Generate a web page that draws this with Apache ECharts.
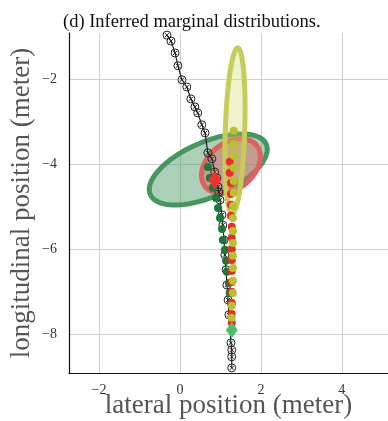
<!DOCTYPE html>
<html>
<head>
<meta charset="utf-8">
<script src="https://cdn.jsdelivr.net/npm/echarts@6/dist/echarts.min.js"></script>
<style>
html, body { margin: 0; padding: 0; background: #fff; }
#chart { width: 388px; height: 421px; }
</style>
</head>
<body>
<div id="chart"></div>
<script>
// ============================================
// (d) Inferred marginal distributions
// ============================================

// 黑色軌跡
const trajX = [-0.32, -0.22, -0.12, -0.05, 0.05, 0.17, 0.27, 0.37, 0.44, 0.54, 0.62, 0.69, 0.79, 0.86, 0.91, 0.94, 0.96, 0.99, 1.04, 1.06, 1.09, 1.11, 1.14, 1.16, 1.19, 1.21, 1.26, 1.28, 1.28, 1.28];
const trajY = [-0.97, -1.11, -1.39, -1.69, -2.02, -2.19, -2.47, -2.66, -2.80, -3.08, -3.27, -3.74, -3.88, -4.19, -4.33, -4.54, -4.66, -4.85, -5.20, -5.44, -5.79, -6.14, -6.49, -6.85, -7.20, -7.55, -8.21, -8.38, -8.54, -8.80];

// 深綠點
const greenX = [0.69, 0.74, 0.81, 0.89, 0.94, 0.99, 1.04, 1.06, 1.11, 1.14, 1.16, 1.21, 1.23, 1.26];
const greenY = [-4.07, -4.33, -4.56, -4.80, -5.04, -5.27, -5.53, -5.79, -6.02, -6.28, -6.54, -6.80, -7.04, -7.27];

// 紅點
const redX = [1.23, 1.23, 1.26, 1.26, 1.26, 1.26, 1.28, 1.28, 1.28, 1.28, 1.28, 1.28, 1.28, 1.28, 1.28, 1.28];
const redY = [-3.95, -4.21, -4.45, -4.71, -4.96, -5.22, -5.48, -5.74, -6.00, -6.26, -6.52, -6.78, -7.01, -7.27, -7.53, -7.74];

// 黃綠點
const yellowX = [1.33, 1.33, 1.33, 1.33, 1.33, 1.33, 1.31, 1.31, 1.31, 1.31, 1.31, 1.31, 1.31, 1.31, 1.28, 1.28];
const yellowY = [-3.22, -3.53, -3.81, -4.09, -4.40, -4.68, -4.99, -5.27, -5.58, -5.86, -6.16, -6.45, -6.75, -7.04, -7.34, -7.62];

// 菱形
const redDiamond = [0.86, -4.38];
const greenDiamond = [1.28, -7.91];

// 橢圓 (綠, 紅, 黃)
const ellipseCx = [0.70, 1.26, 1.36];
const ellipseCy = [-4.13, -4.05, -3.22];
const ellipseA = [1.55, 0.80, 1.95];
const ellipseB = [0.65, 0.55, 0.24];
const ellipseAngle = [22, 35, 88];

// 刻度
const xTicks = [-2, 0, 2, 4];
const yTicks = [-8, -6, -4, -2];

const zip = (xs, ys) => xs.map((x, i) => [x, ys[i]]);

const ellipseStroke = ['#46965f', '#e05f5f', '#c6cc58'];
const ellipseFill = ['rgba(70,150,95,0.45)', 'rgba(225,95,95,0.45)', 'rgba(205,210,90,0.3)'];

function renderEllipse(params, api) {
    const i = params.dataIndex;
    const cx = api.value(0), cy = api.value(1);
    const a = api.value(2), b = api.value(3);
    const ang = api.value(4) * Math.PI / 180;
    const pts = [];
    for (let k = 0; k < 90; k++) {
        const t = k / 90 * Math.PI * 2;
        const x = cx + a * Math.cos(t) * Math.cos(ang) - b * Math.sin(t) * Math.sin(ang);
        const y = cy + a * Math.cos(t) * Math.sin(ang) + b * Math.sin(t) * Math.cos(ang);
        pts.push(api.coord([x, y]));
    }
    return {
        type: 'polygon',
        shape: { points: pts },
        style: { fill: ellipseFill[i], stroke: ellipseStroke[i], lineWidth: 5 }
    };
}

const serif = 'Liberation Serif';
const minus = v => String(v).replace('-', '\u2212');

const chart = echarts.init(document.getElementById('chart'));
chart.setOption({
    animation: false,
    title: {
        text: '(d) Inferred marginal distributions.',
        left: 58, top: 8,
        textStyle: { fontFamily: serif, fontSize: 18.5, fontWeight: 'normal', color: '#111' }
    },
    grid: { left: 69, top: 33, right: 0, bottom: 48, outerBoundsMode: 'none', containLabel: false },
    xAxis: {
        type: 'value',
        min: -2.74, max: 5.14,
        name: 'lateral position (meter)',
        nameLocation: 'middle',
        nameGap: 19,
        nameMoveOverlap: false,
        nameTextStyle: { fontFamily: serif, fontSize: 27, color: '#555', verticalAlign: 'top' },
        axisLine: { onZero: false, lineStyle: { color: '#111', width: 1.2 } },
        axisTick: { show: false, customValues: xTicks },
        axisLabel: { customValues: xTicks, formatter: minus, fontFamily: serif, fontSize: 14, color: '#333', margin: 10 },
        splitLine: { show: true, lineStyle: { color: '#d0d0d0', width: 1 } }
    },
    yAxis: {
        type: 'value',
        min: -8.92, max: -0.92,
        name: 'longitudinal position (meter)',
        nameLocation: 'middle',
        nameGap: 34,
        nameMoveOverlap: false,
        nameTextStyle: { fontFamily: serif, fontSize: 27, color: '#555' },
        axisLine: { onZero: false, lineStyle: { color: '#111', width: 1.2 } },
        axisTick: { show: false, customValues: yTicks },
        axisLabel: { customValues: yTicks, formatter: minus, fontFamily: serif, fontSize: 14, color: '#333', margin: 12 },
        splitLine: { show: true, lineStyle: { color: '#d0d0d0', width: 1 } }
    },
    series: [
        {
            type: 'custom',
            renderItem: renderEllipse,
            clip: true,
            z: 1,
            data: ellipseCx.map((cx, i) => [cx, ellipseCy[i], ellipseA[i], ellipseB[i], ellipseAngle[i]])
        },
        {
            // 軌跡線 + x 標記
            type: 'line',
            z: 2,
            data: zip(trajX, trajY),
            symbol: 'path://M0,0L10,10M10,0L0,10',
            symbolSize: 4,
            lineStyle: { color: '#222', width: 1.2 },
            itemStyle: { color: 'none', borderColor: '#222', borderWidth: 1 }
        },
        {
            // 空心圓
            type: 'scatter',
            z: 2,
            data: zip(trajX, trajY),
            symbol: 'circle',
            symbolSize: 8,
            itemStyle: { color: 'rgba(0,0,0,0)', borderColor: '#222', borderWidth: 1, opacity: 1 }
        },
        {
            type: 'scatter', z: 3,
            data: zip(greenX, greenY),
            symbolSize: 8,
            itemStyle: { color: '#1b7a36', opacity: 1 }
        },
        {
            type: 'scatter', z: 3,
            data: zip(redX, redY),
            symbolSize: 8,
            itemStyle: { color: '#f02a2a', opacity: 1 }
        },
        {
            type: 'scatter', z: 4,
            data: zip(yellowX, yellowY),
            symbolSize: 8,
            itemStyle: { color: '#b7c22c', opacity: 1 }
        },
        {
            type: 'scatter', z: 5,
            data: [redDiamond],
            symbol: 'diamond',
            symbolSize: [13, 18],
            itemStyle: { color: '#f23030', opacity: 1 }
        },
        {
            type: 'scatter', z: 5,
            data: [greenDiamond],
            symbol: 'diamond',
            symbolSize: [12, 16],
            itemStyle: { color: '#4cc066', opacity: 1 }
        }
    ]
});
</script>
</body>
</html>
